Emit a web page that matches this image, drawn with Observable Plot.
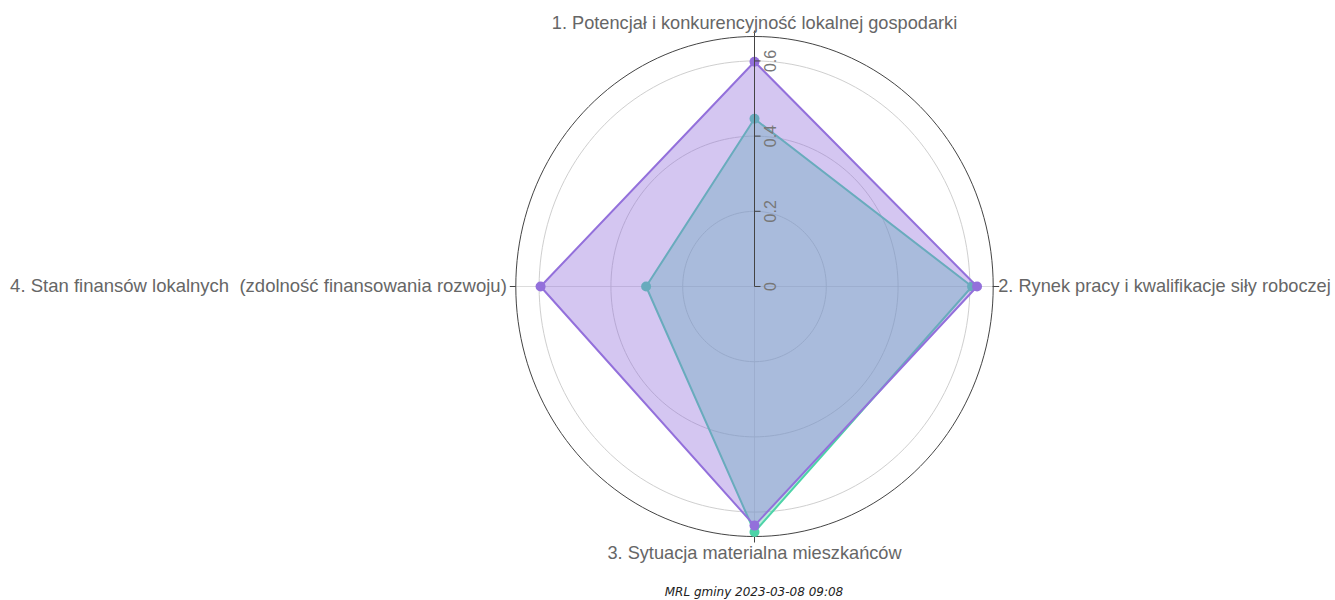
<!DOCTYPE html>
<html><head><meta charset="utf-8">
<script src="https://cdn.jsdelivr.net/npm/d3@7"></script>
<script src="https://cdn.jsdelivr.net/npm/@observablehq/plot@0.6"></script>
<style>
body{margin:0;background:#fff;font-family:"Liberation Sans",Arial,sans-serif;}
#wrap{position:relative;width:1335px;height:600px;}
#caption{position:absolute;left:754px;top:584px;transform:translateX(-50%);font-family:"DejaVu Sans",sans-serif;font-style:italic;font-size:12px;line-height:16px;color:#222;white-space:nowrap;}
</style></head><body>
<div id="wrap"><div id="chart"></div><div id="caption"></div></div>
<script>
const axisLabels = [
  "1. Potencjał i konkurencyjność lokalnej gospodarki",
  "2. Rynek pracy i kwalifikacje siły roboczej",
  "3. Sytuacja materialna mieszkańców",
  "4. Stan finansów lokalnych  (zdolność finansowania rozwoju)"
];
const seriesPurple = [0.598, 0.620, 0.636, 0.596];
const seriesTeal = [0.446, 0.606, 0.653, 0.302];
const radialTicks = [0, 0.2, 0.4, 0.6];
const radialMax = 0.665;
const captionText = "MRL gminy 2023-03-08 09:08";

const purple = "#9370DB";
const teal = "#4dd3a8";

const theta = i => Math.PI / 2 - i * Math.PI / 2;
const toXY = vals => vals.map((v, i) => ({x: v * Math.cos(theta(i)), y: v * Math.sin(theta(i)), i}));
const purplePts = toXY(seriesPurple);
const tealPts = toXY(seriesTeal);

const circle = r => d3.range(0, 361, 2).map(a => ({r, x: r * Math.cos(a * Math.PI / 180), y: r * Math.sin(a * Math.PI / 180)}));
const gridPts = radialTicks.filter(t => t > 0).flatMap(circle);
const outerPts = circle(radialMax);

const cx = 754, cy = 286, rx = 238.7, ry = 250;
const pxX = rx / radialMax, pxY = ry / radialMax;

const spokes = axisLabels.map((label, i) => ({i, label, x: radialMax * Math.cos(theta(i)), y: radialMax * Math.sin(theta(i))}));

const chart = Plot.plot({
  width: 1335,
  height: 584,
  margin: 0,
  style: {fontFamily: "'Liberation Sans', Arial, sans-serif", background: "#fff", overflow: "visible"},
  x: {domain: [-radialMax, radialMax], range: [cx - rx, cx + rx], axis: null},
  y: {domain: [-radialMax, radialMax], range: [cy + ry, cy - ry], axis: null},
  marks: [
    Plot.link(spokes, {x1: 0, y1: 0, x2: "x", y2: "y", stroke: "#dcdcdc", strokeWidth: 1}),
    Plot.line(gridPts, {x: "x", y: "y", z: "r", curve: "linear-closed", stroke: "#cfcfcf", strokeWidth: 1}),
    Plot.line(outerPts, {x: "x", y: "y", curve: "linear-closed", stroke: "#444", strokeWidth: 1}),
    Plot.link(spokes, {
      x1: "x", y1: "y",
      x2: d => d.x + Math.cos(theta(d.i)) * 6 / pxX,
      y2: d => d.y + Math.sin(theta(d.i)) * 6 / pxY,
      stroke: "#444", strokeWidth: 1
    }),
    Plot.line(tealPts, {x: "x", y: "y", curve: "linear-closed", stroke: teal, strokeWidth: 2, fill: teal, fillOpacity: 0.4}),
    Plot.dot(tealPts, {x: "x", y: "y", r: 5, fill: teal}),
    Plot.line(purplePts, {x: "x", y: "y", curve: "linear-closed", stroke: purple, strokeWidth: 2, fill: purple, fillOpacity: 0.4}),
    Plot.dot(purplePts, {x: "x", y: "y", r: 5, fill: purple}),
    Plot.link([0], {x1: 0, y1: 0, x2: 0, y2: radialMax, stroke: "#444", strokeWidth: 1}),
    Plot.link(radialTicks, {x1: 0, y1: d => d, x2: 6 / pxX, y2: d => d, stroke: "#444", strokeWidth: 1}),
    Plot.text(radialTicks, {x: 0, y: d => d, text: d => String(d), rotate: -90, dx: 16, textAnchor: "middle", lineAnchor: "middle", fontSize: 16, fill: "#777"}),
    Plot.text([spokes[0]], {x: "x", y: "y", text: "label", textAnchor: "middle", lineAnchor: "bottom", dy: -8, fontSize: 18.2, fill: "#666"}),
    Plot.text([spokes[1]], {x: "x", y: "y", text: "label", textAnchor: "start", lineAnchor: "middle", dx: 5, fontSize: 18.2, fill: "#666"}),
    Plot.text([spokes[2]], {x: "x", y: "y", text: "label", textAnchor: "middle", lineAnchor: "top", dy: 10, fontSize: 18.2, fill: "#666"}),
    Plot.text([spokes[3]], {x: "x", y: "y", text: "label", textAnchor: "end", lineAnchor: "middle", dx: -9, fontSize: 18.5, fill: "#666"})
  ]
});
chart.querySelectorAll("text").forEach(t => t.style.whiteSpace = "pre");
document.getElementById("chart").append(chart);
document.getElementById("caption").textContent = captionText;
</script>
</body></html>
